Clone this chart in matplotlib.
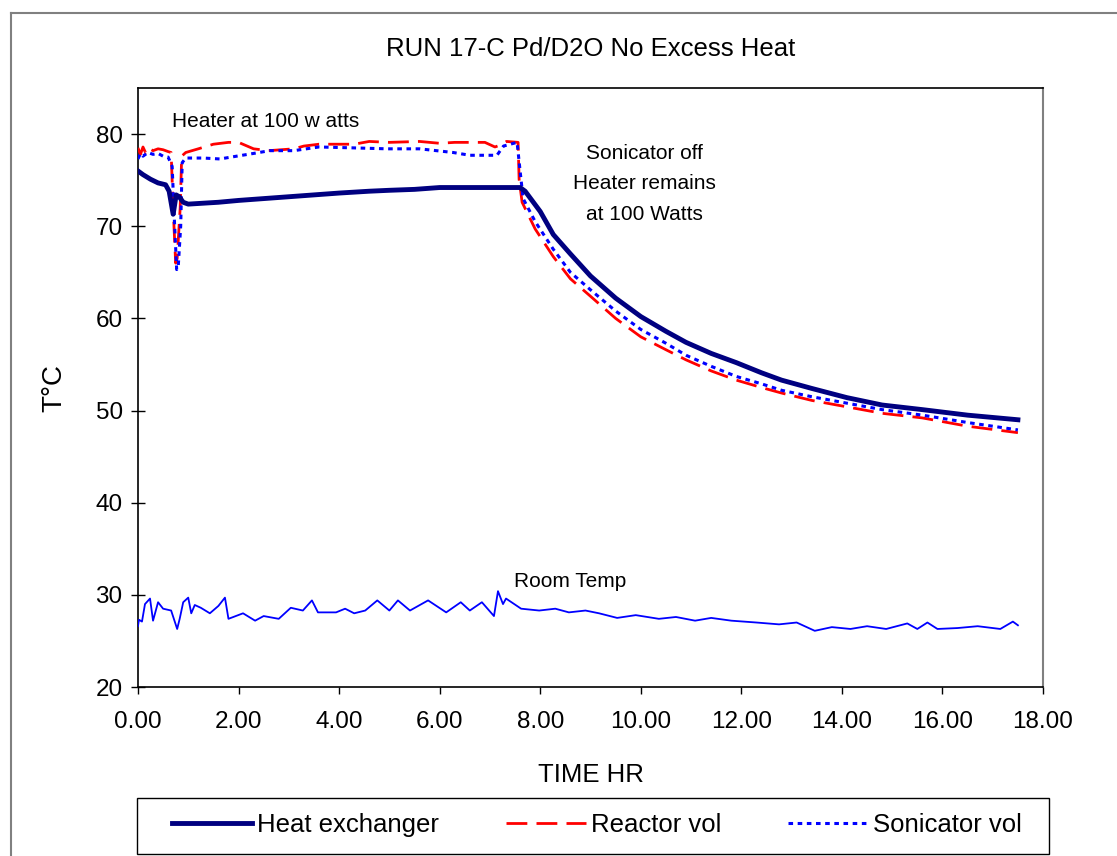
import matplotlib
matplotlib.use('Agg')
import matplotlib.pyplot as plt
from matplotlib.lines import Line2D
from matplotlib.patches import Rectangle

plt.rcParams['font.family'] = ['Liberation Sans', 'DejaVu Sans']

# %% data (time in hours, temperature in deg C)
hx_t = [0, 0.1, 0.25, 0.4, 0.55, 0.62, 0.7, 0.76, 0.82, 0.9, 1.0, 1.3, 1.6, 2.0,
        2.5, 3.0, 3.5, 4.0, 4.6, 5.0, 5.5, 6.0, 7.0, 7.6, 7.7, 8.0, 8.26, 8.6, 9.0,
        9.5, 10.0, 10.5, 10.9, 11.4, 11.9, 12.4, 12.8, 13.4, 14.1, 14.8, 15.6, 16.5, 17.5]
hx_T = [76.0, 75.6, 75.1, 74.7, 74.5, 73.8, 71.3, 73.4, 73.2, 72.6, 72.4, 72.5, 72.6, 72.8,
        73.0, 73.2, 73.4, 73.6, 73.8, 73.9, 74.0, 74.2, 74.2, 74.2, 73.8, 71.6, 69.1, 67.0, 64.6,
        62.2, 60.2, 58.6, 57.4, 56.2, 55.2, 54.1, 53.3, 52.4, 51.4, 50.6, 50.1, 49.5, 49.0]

rx_t = [0, 0.05, 0.1, 0.15, 0.2, 0.3, 0.4, 0.5, 0.6, 0.66, 0.7, 0.75, 0.78, 0.84, 0.87,
        0.95, 1.2, 1.5, 1.8, 2.0, 2.3, 2.6, 3.1, 3.3, 3.6, 4.3, 4.6, 5.0, 5.6, 6.0, 6.3,
        6.9, 7.1, 7.2, 7.33, 7.56, 7.58, 7.64, 7.9, 8.26, 8.6, 9.0, 9.5, 10.0, 10.5, 10.9,
        11.4, 11.9, 12.4, 12.8, 13.4, 14.1, 14.8, 15.6, 16.5, 17.5]
rx_T = [78.5, 77.8, 78.6, 78.0, 78.5, 78.2, 78.4, 78.3, 78.1, 78.0, 72.0, 66.0, 66.5, 72.0, 77.6,
        78.0, 78.4, 78.9, 79.1, 79.1, 78.4, 78.2, 78.4, 78.7, 78.9, 78.9, 79.2, 79.1, 79.2, 79.0, 79.1,
        79.1, 78.6, 78.8, 79.2, 79.1, 75.1, 72.6, 69.7, 66.7, 64.3, 62.4, 60.0, 58.0, 56.6, 55.5,
        54.3, 53.3, 52.5, 51.9, 51.1, 50.4, 49.7, 49.2, 48.3, 47.6]

sx_t = [0, 0.05, 0.1, 0.2, 0.3, 0.4, 0.5, 0.6, 0.68, 0.73, 0.77, 0.8, 0.85, 0.88, 0.95,
        1.3, 1.63, 1.96, 2.3, 2.62, 3.1, 3.6, 4.3, 4.95, 5.6, 6.27, 6.6, 7.14, 7.27, 7.54,
        7.6, 7.66, 7.9, 8.26, 8.6, 9.0, 9.5, 10.0, 10.5, 10.9, 11.4, 11.9, 12.4, 12.8,
        13.4, 14.1, 14.8, 15.6, 16.5, 17.5]
sx_T = [77.3, 77.9, 77.6, 78.0, 77.8, 77.9, 77.6, 77.5, 76.5, 70.0, 65.3, 65.5, 70.0, 76.9, 77.4,
        77.4, 77.3, 77.6, 77.9, 78.2, 78.2, 78.6, 78.5, 78.4, 78.4, 78.0, 77.7, 77.7, 78.7, 79.1,
        76.0, 73.0, 70.5, 67.5, 65.0, 63.1, 60.8, 58.8, 57.3, 56.0, 54.8, 53.7, 52.9, 52.2,
        51.5, 50.8, 50.1, 49.5, 48.7, 47.9]

room_t = [0.0, 0.02, 0.08, 0.14, 0.24, 0.3, 0.4, 0.5, 0.66, 0.78, 0.83, 0.9, 1.0, 1.06, 1.13,
          1.25, 1.43, 1.6, 1.73, 1.8, 2.09, 2.33, 2.5, 2.8, 3.04, 3.28, 3.46, 3.58, 3.94,
          4.12, 4.3, 4.52, 4.76, 5.0, 5.17, 5.41, 5.77, 6.13, 6.42, 6.6, 6.84, 7.08, 7.16,
          7.26, 7.32, 7.62, 7.98, 8.3, 8.57, 8.9, 9.17, 9.53, 9.9, 10.36, 10.7, 11.08, 11.4,
          11.8, 12.3, 12.75, 13.1, 13.46, 13.8, 14.17, 14.5, 14.88, 15.3, 15.5, 15.7, 15.9,
          16.3, 16.7, 17.15, 17.4, 17.5]
room_T = [26.6, 27.3, 27.1, 29.0, 29.6, 27.2, 29.2, 28.5, 28.3, 26.3, 27.4, 29.2, 29.7, 28.0, 28.9,
          28.6, 28.0, 28.8, 29.7, 27.4, 28.0, 27.2, 27.7, 27.4, 28.6, 28.3, 29.4, 28.1, 28.1,
          28.5, 28.0, 28.3, 29.4, 28.3, 29.4, 28.3, 29.4, 28.1, 29.2, 28.3, 29.2, 27.7, 30.4,
          29.0, 29.6, 28.5, 28.3, 28.5, 28.1, 28.3, 28.0, 27.5, 27.8, 27.4, 27.6, 27.2, 27.5,
          27.2, 27.0, 26.8, 27.0, 26.1, 26.5, 26.3, 26.6, 26.3, 26.9, 26.3, 27.0, 26.3,
          26.4, 26.6, 26.3, 27.1, 26.7]

# %% figure
fig = plt.figure(figsize=(11.17, 8.56), dpi=100)
ax = fig.add_axes([0.1235, 0.1974, 0.8103, 0.6998])

ax.plot(hx_t, hx_T, color='#000080', lw=3.5, label='Heat exchanger', zorder=4)
ax.plot(rx_t, rx_T, color='#FF0000', lw=2, ls=(0, (7.5, 3.3)), label='Reactor vol', zorder=3)
ax.plot(sx_t, sx_T, color='#0000FF', lw=2.2, ls=(0, (1.5, 1.5)), label='Sonicator vol', zorder=3)
ax.plot(room_t, room_T, color='#0000FF', lw=1.3, zorder=3)

ax.set_xlim(0, 18)
ax.set_ylim(20, 85)
ax.set_xticks(range(0, 19, 2))
ax.set_xticklabels([f'{v:.2f}' for v in range(0, 19, 2)])
ax.set_yticks(range(20, 81, 10))
ax.tick_params(axis='y', direction='inout', length=10, width=1, labelsize=17.5, pad=6)
ax.tick_params(axis='x', direction='out', length=5, width=1, labelsize=17.5, pad=12)

for side in ['left', 'bottom', 'top']:
    ax.spines[side].set_color('black')
    ax.spines[side].set_linewidth(1.2)
ax.spines['right'].set_color('#808080')
ax.spines['right'].set_linewidth(1.5)

ax.set_xlabel('TIME HR', fontsize=18.5, labelpad=22)
ax.set_ylabel('T°C', fontsize=20, labelpad=20)
ax.set_title('RUN 17-C Pd/D2O No Excess Heat', fontsize=18.5, pad=23)

ax.text(0.68, 81.4, 'Heater at 100 w atts', fontsize=15, va='center', ha='left')
ax.text(10.08, 74.6, 'Sonicator off\nHeater remains\nat 100 Watts', fontsize=15,
        va='center', ha='center', linespacing=1.75)
ax.text(8.6, 31.5, 'Room Temp', fontsize=15, va='center', ha='center')

# legend box drawn separately, entries placed inside it
fig.add_artist(Rectangle((137 / 1117, 1 - 854 / 856), 912 / 1117, 56 / 856,
                         transform=fig.transFigure, fill=False, edgecolor='black', lw=1.0))
leg = fig.legend(loc='center', ncol=3, bbox_to_anchor=(597 / 1117, 1 - 825 / 856),
                 fontsize=18.5, frameon=False, handlelength=3.1,
                 handletextpad=0.2, columnspacing=2.6, borderpad=0, borderaxespad=0)

# outer chart border (left and top edges visible)
fig.add_artist(Line2D([11 / 1117, 11 / 1117], [0, 1 - 13 / 856], transform=fig.transFigure,
                      color='#808080', lw=1.5))
fig.add_artist(Line2D([11 / 1117, 1], [1 - 13 / 856, 1 - 13 / 856], transform=fig.transFigure,
                      color='#808080', lw=1.5))

fig.savefig('out.png', dpi=100)
